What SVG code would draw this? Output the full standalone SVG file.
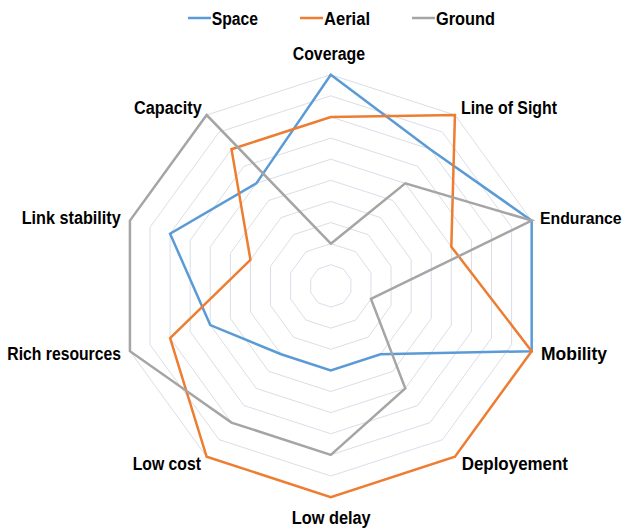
<svg xmlns="http://www.w3.org/2000/svg" width="624" height="529" viewBox="0 0 624 529">
  <style>
    .grid { fill: none; stroke: #d9dee7; stroke-width: 1; }
    .series { fill: none; stroke-width: 2.5; stroke-linejoin: miter; }
    .space { stroke: #5b9bd5; }
    .aerial { stroke: #ed7d31; }
    .ground { stroke: #a5a5a5; }
    .lbl { font-family: "Liberation Sans", Arial, sans-serif; font-weight: bold; font-size: 17.5px; fill: #000000; }
  </style>
  <rect x="0" y="0" width="624" height="529" fill="#ffffff"/>

  <g id="legend">
    <line class="space" x1="188" y1="18" x2="211" y2="18" stroke-width="2.5"/>
    <text class="lbl" x="211.7" y="24.5" textLength="46.3" lengthAdjust="spacingAndGlyphs">Space</text>
    <line class="aerial" x1="300" y1="18" x2="323" y2="18" stroke-width="2.5"/>
    <text class="lbl" x="324" y="24.5" textLength="46" lengthAdjust="spacingAndGlyphs">Aerial</text>
    <line class="ground" x1="412" y1="18" x2="435" y2="18" stroke-width="2.5"/>
    <text class="lbl" x="436" y="24.5" textLength="59" lengthAdjust="spacingAndGlyphs">Ground</text>
  </g>

  <g id="grid" transform="translate(330.8,285.9)">
    <polygon class="grid" points="0,-21.12 12.41,-17.09 20.09,-6.53 20.09,6.53 12.41,17.09 0,21.12 -12.41,17.09 -20.09,6.53 -20.09,-6.53 -12.41,-17.09"/>
    <polygon class="grid" points="0,-42.24 24.83,-34.17 40.17,-13.05 40.17,13.05 24.83,34.17 0,42.24 -24.83,34.17 -40.17,13.05 -40.17,-13.05 -24.83,-34.17"/>
    <polygon class="grid" points="0,-63.36 37.24,-51.26 60.26,-19.58 60.26,19.58 37.24,51.26 0,63.36 -37.24,51.26 -60.26,19.58 -60.26,-19.58 -37.24,-51.26"/>
    <polygon class="grid" points="0,-84.48 49.66,-68.34 80.35,-26.10 80.35,26.10 49.66,68.34 0,84.48 -49.66,68.34 -80.35,26.10 -80.35,-26.10 -49.66,-68.34"/>
    <polygon class="grid" points="0,-105.6 62.07,-85.43 100.44,-32.63 100.44,32.63 62.07,85.43 0,105.6 -62.07,85.43 -100.44,32.63 -100.44,-32.63 -62.07,-85.43"/>
    <polygon class="grid" points="0,-126.72 74.48,-102.52 120.52,-39.16 120.52,39.16 74.48,102.52 0,126.72 -74.48,102.52 -120.52,39.16 -120.52,-39.16 -74.48,-102.52"/>
    <polygon class="grid" points="0,-147.84 86.90,-119.60 140.61,-45.68 140.61,45.68 86.90,119.60 0,147.84 -86.90,119.60 -140.61,45.68 -140.61,-45.68 -86.90,-119.60"/>
    <polygon class="grid" points="0,-168.96 99.31,-136.69 160.70,-52.21 160.70,52.21 99.31,136.69 0,168.96 -99.31,136.69 -160.70,52.21 -160.70,-52.21 -99.31,-136.69"/>
    <polygon class="grid" points="0,-190.08 111.73,-153.77 180.78,-58.73 180.78,58.73 111.73,153.77 0,190.08 -111.73,153.77 -180.78,58.73 -180.78,-58.73 -111.73,-153.77"/>
    <polygon class="grid" points="0,-211.2 124.14,-170.86 200.87,-65.26 200.87,65.26 124.14,170.86 0,211.2 -124.14,170.86 -200.87,65.26 -200.87,-65.26 -124.14,-170.86"/>
  </g>

  <g id="connectors" transform="translate(330.8,285.9)">
    <polygon id="series-space" class="series space" points="0,-211.2 99.31,-136.69 200.87,-65.26 200.87,65.26 49.66,68.34 0,84.48 -49.66,68.34 -120.52,39.16 -160.70,-52.21 -74.48,-102.52"/>
    <polygon id="series-aerial" class="series aerial" points="0,-168.96 124.14,-170.86 120.52,-39.16 200.87,65.26 124.14,170.86 0,211.2 -124.14,170.86 -160.70,52.21 -80.35,-26.10 -99.31,-136.69"/>
    <polygon id="series-ground" class="series ground" points="0,-42.24 74.48,-102.52 200.87,-65.26 40.17,13.05 74.48,102.52 0,168.96 -99.31,136.69 -200.87,65.26 -200.87,-65.26 -124.14,-170.86"/>
  </g>

  <g id="axis-coverage"><text class="lbl" x="292.7" y="60" textLength="72.3" lengthAdjust="spacingAndGlyphs">Coverage</text></g>
  <g id="axis-line-of-sight"><text class="lbl" x="461" y="114" textLength="96" lengthAdjust="spacingAndGlyphs">Line of Sight</text></g>
  <g id="axis-endurance"><text class="lbl" x="540" y="224" style="font-size:15.8px">Endurance</text></g>
  <g id="axis-mobility"><text class="lbl" x="541" y="360" textLength="66" lengthAdjust="spacingAndGlyphs">Mobility</text></g>
  <g id="axis-deployement"><text class="lbl" x="461.7" y="470" textLength="106.3" lengthAdjust="spacingAndGlyphs">Deployement</text></g>
  <g id="axis-low-delay"><text class="lbl" x="291.7" y="524" textLength="79" lengthAdjust="spacingAndGlyphs">Low delay</text></g>
  <g id="axis-low-cost"><text class="lbl" x="132.7" y="470" textLength="68.3" lengthAdjust="spacingAndGlyphs">Low cost</text></g>
  <g id="axis-rich-resources"><text class="lbl" x="7.3" y="360" textLength="113.7" lengthAdjust="spacingAndGlyphs">Rich resources</text></g>
  <g id="axis-link-stability"><text class="lbl" x="21.7" y="224" textLength="99" lengthAdjust="spacingAndGlyphs">Link stability</text></g>
  <g id="axis-capacity"><text class="lbl" x="134" y="114.3" textLength="67.7" lengthAdjust="spacingAndGlyphs">Capacity</text></g>
</svg>
